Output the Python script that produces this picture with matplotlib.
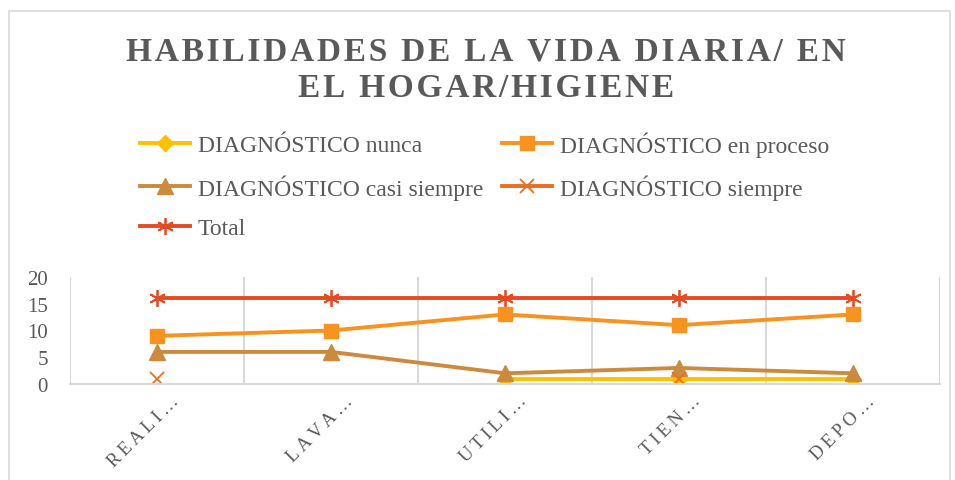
import numpy as np
import matplotlib.pyplot as plt
from matplotlib.patches import Rectangle
from matplotlib.transforms import ScaledTranslation

plt.rcParams['font.family'] = ['Liberation Serif', 'DejaVu Serif']

# Data
categories = ['REALI…', 'LAVA…', 'UTILI…', 'TIEN…', 'DEPO…']
nunca = [np.nan, np.nan, 1, 1, 1]
en_proceso = [9, 10, 13, 11, 13]
casi_siempre = [6, 6, 2, 3, 2]
siempre = [1, np.nan, np.nan, 1, np.nan]
total = [16, 16, 16, 16, 16]
y_ticks = [0, 5, 10, 15, 20]

title_lines = ['HABILIDADES DE LA VIDA DIARIA/ EN', 'EL HOGAR/HIGIENE']

gray = '#595959'
grid = '#D9D9D9'

fig = plt.figure(figsize=(9.55, 4.81), dpi=100)
ax = fig.add_axes([70 / 955, 1 - 385 / 481, 870 / 955, 107 / 481])

x = np.arange(len(categories))
lw = 2.8
h_nunca, = ax.plot(x, nunca, color='#FFC000', lw=lw, marker='D', ms=8, label='DIAGNÓSTICO nunca')
h_proc, = ax.plot(x, en_proceso, color='#F7931E', lw=lw, marker='s', ms=10, label='DIAGNÓSTICO en proceso')
h_casi, = ax.plot(x, casi_siempre, color='#CC8A3C', lw=lw, marker='^', ms=11, label='DIAGNÓSTICO casi siempre')
h_siem, = ax.plot(x, siempre, color='#ED6D1F', lw=lw, marker='x', ms=10, mew=1.3, label='DIAGNÓSTICO siempre')
h_tot, = ax.plot(x, total, color='#E64A22', lw=lw, marker=(6, 2, 0), ms=12, mew=1.3, label='Total')

ax.set_xlim(-0.5, len(categories) - 0.5)
ax.set_ylim(0, 20)
ax.set_yticks(y_ticks)
ax.set_xticks(x)
ax.set_xticks(np.arange(-0.5, len(categories)), minor=True)
ax.grid(True, which='minor', axis='x', color=grid, lw=1.5)
ax.tick_params(which='both', length=0)
ax.tick_params(axis='y', pad=16, labelsize=15, labelcolor=gray)
ax.set_xticklabels(['\u2009'.join(c) for c in categories], rotation=45, ha='right', va='top',
                   rotation_mode='anchor', fontsize=13.5, color=gray)
offset = ScaledTranslation(13 / 100, -3 / 100, fig.dpi_scale_trans)
for lab in ax.get_xticklabels():
    lab.set_transform(lab.get_transform() + offset)
for s in ['left', 'right', 'top']:
    ax.spines[s].set_visible(False)
ax.spines['bottom'].set_color(grid)
ax.spines['bottom'].set_linewidth(1.5)

# Title with letter spacing
for i, line in enumerate(title_lines):
    spaced = '\u200a'.join(line)
    fig.text(486 / 955, 1 - (52 + 37 * i) / 481, spaced, ha='center', va='center',
             fontsize=24, fontweight='bold', color=gray)

handles = [h_nunca, h_casi, h_tot, h_proc, h_siem]
fig.legend(handles=handles, labels=[h.get_label() for h in handles], ncol=2,
           loc='upper left', bbox_to_anchor=(140 / 955, 1 - 132 / 481),
           frameon=False, fontsize=17, handlelength=2.1, handletextpad=0.35,
           columnspacing=0.8, labelspacing=0.75, borderpad=0, borderaxespad=0,
           labelcolor=gray)

fig.patches.append(Rectangle((9 / 955, -0.1), 941 / 955, 1.1 - 12 / 481,
                             transform=fig.transFigure, fill=False, ec=grid, lw=1.2))

fig.savefig('out.png', dpi=100)
